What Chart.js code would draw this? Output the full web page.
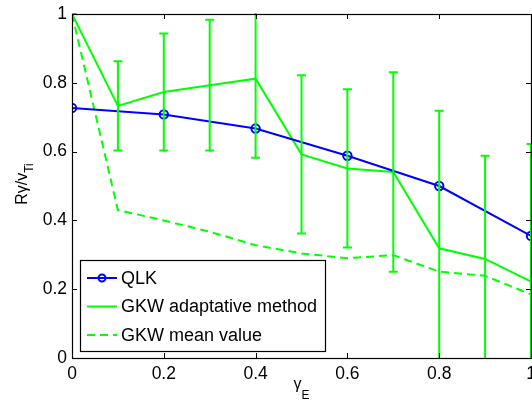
<!DOCTYPE html>
<html>
<head>
<meta charset="utf-8">
<script src="https://cdn.jsdelivr.net/npm/chart.js@4/dist/chart.umd.min.js"></script>
<style>
  html, body { margin: 0; padding: 0; background: #fff; }
  #wrap { width: 532px; height: 400px; position: relative; }
</style>
</head>
<body>
<div id="wrap"><canvas id="c" width="532" height="400"></canvas></div>
<script>
// ---- data ----
const xQLK = [0, 0.2, 0.4, 0.6, 0.8, 1];
const qlkValues = [0.727, 0.708, 0.667, 0.588, 0.5, 0.355];

const xGKW = [0, 0.1, 0.2, 0.3, 0.4, 0.5, 0.6, 0.7, 0.8, 0.9, 1];
const gkwAdaptive = [1.0, 0.733, 0.773, 0.793, 0.812, 0.592, 0.551, 0.541, 0.319, 0.288, 0.222];
const gkwError = [0, 0.13, 0.17, 0.19, 0.23, 0.23, 0.23, 0.29, 0.40, 0.30, 0.40];
const gkwMean = [1.0, 0.43, 0.40, 0.367, 0.328, 0.304, 0.29, 0.299, 0.251, 0.239, 0.185];

const xTicks = [0, 0.2, 0.4, 0.6, 0.8, 1];
const yTicks = [0, 0.2, 0.4, 0.6, 0.8, 1];
const seriesNames = ['QLK', 'GKW adaptative method', 'GKW mean value'];

const BLUE = '#0000ff';
const GREEN = '#00ff00';
const FONT = "'Liberation Sans', Arial, Helvetica, sans-serif";

const toXY = (xs, ys) => xs.map((x, i) => ({ x: x, y: ys[i] }));

// error bars plugin
const errorBars = {
  id: 'errorBars',
  afterDatasetsDraw(chart) {
    const { ctx, chartArea: a, scales: { x, y } } = chart;
    ctx.save();
    ctx.beginPath();
    ctx.rect(a.left, a.top - 1, a.right - a.left + 10, a.bottom - a.top + 1);
    ctx.clip();
    ctx.strokeStyle = GREEN;
    ctx.lineWidth = 2;
    const cap = 4.5;
    xGKW.forEach((xv, i) => {
      const px = x.getPixelForValue(xv);
      const lo = y.getPixelForValue(gkwAdaptive[i] - gkwError[i]);
      const hi = y.getPixelForValue(gkwAdaptive[i] + gkwError[i]);
      ctx.beginPath();
      ctx.moveTo(px, lo); ctx.lineTo(px, hi);
      ctx.moveTo(px - cap, lo); ctx.lineTo(px + cap, lo);
      ctx.moveTo(px - cap, hi); ctx.lineTo(px + cap, hi);
      ctx.stroke();
    });
    ctx.restore();
  }
};

// frame, ticks, legend, axis titles
const frame = {
  id: 'frame',
  afterDraw(chart) {
    const { ctx, chartArea: a, scales: { x, y } } = chart;
    ctx.save();
    ctx.strokeStyle = '#000';
    ctx.lineWidth = 1;
    // inner ticks
    const tl = 5;
    ctx.beginPath();
    xTicks.forEach(v => {
      const px = Math.round(x.getPixelForValue(v)) + 0.5;
      ctx.moveTo(px, a.bottom); ctx.lineTo(px, a.bottom - tl);
      ctx.moveTo(px, a.top); ctx.lineTo(px, a.top + tl);
    });
    yTicks.forEach(v => {
      const py = Math.round(y.getPixelForValue(v)) + 0.5;
      ctx.moveTo(a.left, py); ctx.lineTo(a.left + tl, py);
      ctx.moveTo(a.right, py); ctx.lineTo(a.right - tl, py);
    });
    ctx.stroke();
    // box
    ctx.lineWidth = 1.2;
    ctx.strokeRect(Math.round(a.left) + 0.5, Math.round(a.top) + 0.5,
                   Math.round(a.right - a.left), Math.round(a.bottom - a.top));

    // legend
    const lx = 80.5, ly = 260.5, lw = 245, lh = 91;
    ctx.fillStyle = '#fff';
    ctx.fillRect(lx, ly, lw, lh);
    ctx.lineWidth = 1.2;
    ctx.strokeStyle = '#000';
    ctx.strokeRect(lx, ly, lw, lh);
    const rows = [278, 306.5, 335];
    const x0 = 87, x1 = 117;
    ctx.font = '18px ' + FONT;
    ctx.textBaseline = 'middle';
    ctx.textAlign = 'left';
    chart.data.datasets.forEach((ds, i) => {
      const ry = rows[i];
      ctx.save();
      ctx.strokeStyle = ds.borderColor;
      ctx.lineWidth = 2;
      ctx.setLineDash(ds.borderDash || []);
      ctx.beginPath(); ctx.moveTo(x0, ry); ctx.lineTo(x1, ry); ctx.stroke();
      ctx.restore();
      if (ds.pointRadius > 0) {
        ctx.strokeStyle = ds.borderColor;
        ctx.lineWidth = 2;
        ctx.beginPath(); ctx.arc((x0 + x1) / 2, ry, 3.5, 0, Math.PI * 2); ctx.stroke();
      }
      ctx.fillStyle = '#000';
      ctx.fillText(ds.label, 121, ry + 1);
    });

    // axis titles
    ctx.fillStyle = '#000';
    ctx.textBaseline = 'alphabetic';
    // x title: γ_E
    ctx.font = '16px ' + FONT;
    const mainX = 'γ';
    const wx = ctx.measureText(mainX).width;
    ctx.font = '12px ' + FONT;
    const wsx = ctx.measureText('E').width;
    const cx = (a.left + a.right) / 2;
    const sx = cx - (wx + wsx) / 2;
    ctx.font = '16px ' + FONT;
    ctx.fillText(mainX, sx, 389);
    ctx.font = '12px ' + FONT;
    ctx.fillText('E', sx + wx, 399);

    // y title: Rγ/v_Ti (rotated)
    ctx.save();
    ctx.translate(27, (a.top + a.bottom) / 2 - 2);
    ctx.rotate(-Math.PI / 2);
    ctx.font = '16px ' + FONT;
    const mainY = 'Rγ/v';
    const wy = ctx.measureText(mainY).width;
    ctx.font = '12px ' + FONT;
    const wsy = ctx.measureText('Ti').width;
    const sy = -(wy + wsy) / 2;
    ctx.font = '16px ' + FONT;
    ctx.fillText(mainY, sy, 0);
    ctx.font = '12px ' + FONT;
    ctx.fillText('Ti', sy + wy, 6);
    ctx.restore();

    ctx.restore();
  }
};

new Chart(document.getElementById('c'), {
  type: 'line',
  data: {
    datasets: [
      {
        label: seriesNames[0],
        data: toXY(xQLK, qlkValues),
        borderColor: BLUE,
        backgroundColor: 'transparent',
        borderWidth: 2,
        pointRadius: 4.2,
        pointBorderWidth: 2,
        pointBorderColor: BLUE,
        pointBackgroundColor: 'transparent',
        tension: 0,
        order: 0
      },
      {
        label: seriesNames[1],
        data: toXY(xGKW, gkwAdaptive),
        borderColor: GREEN,
        backgroundColor: 'transparent',
        borderWidth: 2,
        pointRadius: 0,
        tension: 0,
        order: 1
      },
      {
        label: seriesNames[2],
        data: toXY(xGKW, gkwMean),
        borderColor: GREEN,
        backgroundColor: 'transparent',
        borderWidth: 2,
        borderDash: [8, 5],
        pointRadius: 0,
        tension: 0,
        order: 2
      }
    ]
  },
  options: {
    responsive: false,
    animation: false,
    devicePixelRatio: 1,
    layout: { autoPadding: false, padding: { left: 0, top: 14, right: 1, bottom: 0 } },
    plugins: { legend: { display: false }, tooltip: { enabled: false }, title: { display: false } },
    scales: {
      x: {
        type: 'linear', min: 0, max: 1,
        grid: { display: false, drawTicks: false },
        border: { display: false },
        afterBuildTicks: s => { s.ticks = xTicks.map(v => ({ value: v })); },
        afterFit: s => { s.height = 42; s.paddingLeft = 0; s.paddingRight = 0; },
        ticks: {
          padding: 6, color: '#000', maxRotation: 0, autoSkip: false,
          font: { family: FONT, size: 17.5 },
          callback: v => String(v)
        }
      },
      y: {
        type: 'linear', min: 0, max: 1,
        grid: { display: false, drawTicks: false },
        border: { display: false },
        afterBuildTicks: s => { s.ticks = yTicks.map(v => ({ value: v })); },
        afterFit: s => { s.width = 72; s.paddingTop = 0; s.paddingBottom = 0; },
        ticks: {
          padding: 5, color: '#000', autoSkip: false,
          font: { family: FONT, size: 17.5 },
          callback: v => String(v)
        }
      }
    }
  },
  plugins: [errorBars, frame]
});
</script>
</body>
</html>
